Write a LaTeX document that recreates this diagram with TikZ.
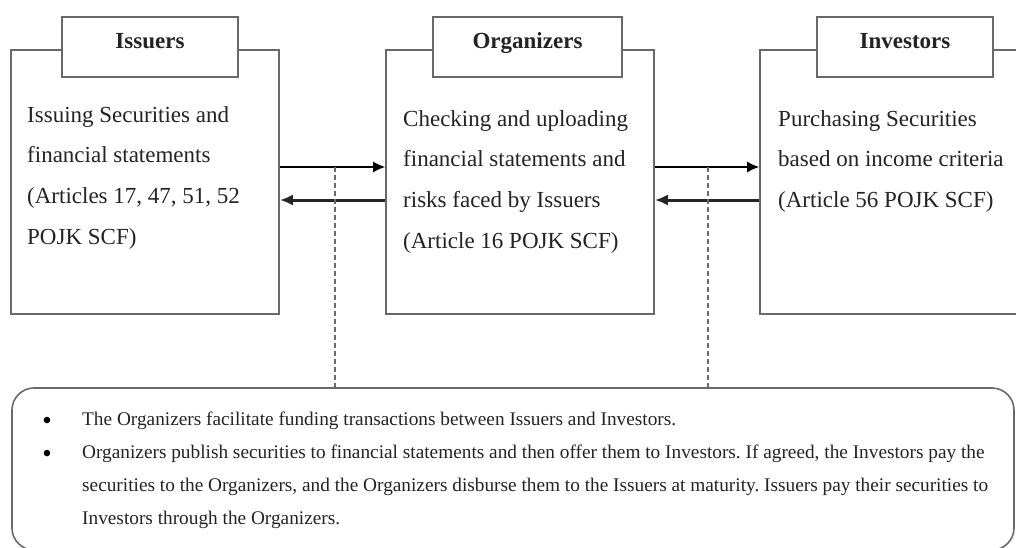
\documentclass[tikz,border=0pt]{standalone}
\usepackage{fontspec}
\setmainfont{Liberation Serif}
\usetikzlibrary{arrows.meta}
\definecolor{boxgray}{RGB}{105,105,105}
\definecolor{inkgray}{RGB}{35,35,35}
\frenchspacing
\begin{document}
\begin{tikzpicture}[x=1pt,y=-1pt]
\tikzstyle{every node}+=[inner sep=0pt]
\tikzstyle{party}=[draw=boxgray, line width=1.6pt, minimum width=268pt, minimum height=264pt]
\tikzstyle{tab}=[draw=boxgray, line width=1.6pt, fill=white, minimum height=60pt, text height=15pt, text depth=12pt, text=inkgray, font=\fontsize{23}{28}\selectfont\bfseries]
\tikzstyle{body}=[anchor=north west, align=left, text=inkgray, font=\fontsize{23}{40.7}\selectfont]
\tikzstyle{fwd}=[-{Latex[length=12pt,width=11pt]}, line width=1.5pt, black]
\tikzstyle{back}=[-{Latex[length=13pt,width=11pt]}, line width=3pt, black!85]
\tikzstyle{link}=[boxgray, line width=1.4pt, dash pattern=on 5pt off 3pt]
\tikzstyle{note}=[draw=boxgray, line width=1.6pt, rounded corners=22pt, minimum width=1002pt, minimum height=162pt]
\tikzstyle{notetext}=[anchor=base west, align=left, text=inkgray, font=\fontsize{19.3}{33.3}\selectfont]
\tikzstyle{bul}=[anchor=base, text=black, font=\fontsize{27}{30}\selectfont]
\useasboundingbox (0,0) rectangle (1016,548);
% three parties
\node [party] (iss) at (145,182) {};
\node [party] (org) at (520,182) {};
\node [party] (inv) at (894,182) {};
\node [tab, minimum width=176pt] (isstab) at (150,47) {Issuers};
\node [tab, minimum width=189pt] (orgtab) at (527.5,47) {Organizers};
\node [tab, minimum width=176pt] (invtab) at (905,47) {Investors};
\node [body] (isstext) at (27,106) {Issuing Securities and\\financial statements\\(Articles 17, 47, 51, 52\\POJK SCF)};
\node [body] (orgtext) at (403,110) {Checking and uploading\\financial statements and\\risks faced by Issuers\\(Article 16 POJK SCF)};
\node [body] (invtext) at (778,110) {Purchasing Securities\\based on income criteria\\(Article 56 POJK SCF)};
% flows
\draw [fwd] ([yshift=15pt]iss.east) -- ([yshift=15pt]org.west);
\draw [back] ([yshift=-18pt]org.west) -- ([yshift=-18pt]iss.east);
\draw [fwd] ([yshift=15pt]org.east) -- ([yshift=15pt]inv.west);
\draw [back] ([yshift=-18pt]inv.west) -- ([yshift=-18pt]org.east);
% summary
\node [note] (sum) at (513,469) {};
\coordinate (d1) at (335,167);
\coordinate (d2) at (708,167);
\draw [link] (d1) -- (d1 |- sum.north);
\draw [link] (d2) -- (d2 |- sum.north);
\node [bul] (b1) at (47,429) {\textbullet};
\node [bul] (b2) at (47,462) {\textbullet};
\node [notetext] (s1) at (82,425) {The Organizers facilitate funding transactions between Issuers and Investors.};
% base of a multi-line node is its last line
\node [notetext] (s2) at (82,524.6) {Organizers publish securities to financial statements and then offer them to Investors. If agreed, the Investors pay the\\securities to the Organizers, and the Organizers disburse them to the Issuers at maturity. Issuers pay their securities to\\Investors through the Organizers.};
\end{tikzpicture}
\end{document}
